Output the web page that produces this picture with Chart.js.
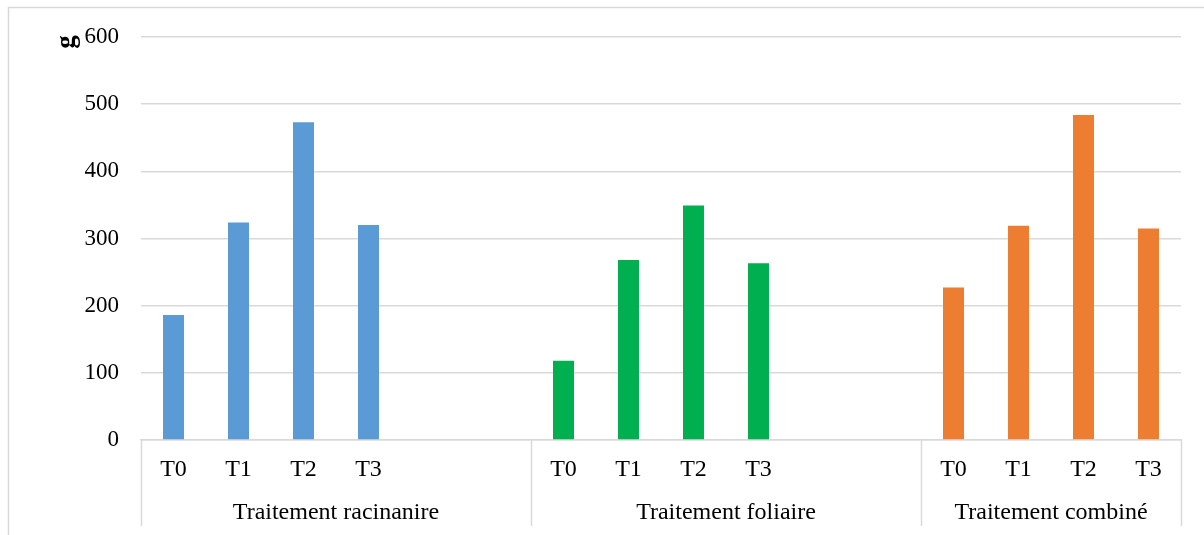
<!DOCTYPE html>
<html>
<head>
<meta charset="utf-8">
<script src="https://cdn.jsdelivr.net/npm/chart.js@4/dist/chart.umd.min.js"></script>
<style>
  html, body { margin: 0; padding: 0; background: #ffffff; }
  canvas { display: block; }
</style>
</head>
<body>
<canvas id="chart" width="1204" height="535"></canvas>
<script>
// Category slots along the x axis (blank slots separate the treatment groups)
const xLabels = ['T0', 'T1', 'T2', 'T3', '', '',
                 'T0', 'T1', 'T2', 'T3', '', '',
                 'T0', 'T1', 'T2', 'T3'];
const groupNames = ['Traitement racinanire', 'Traitement foliaire', 'Traitement combiné'];
const groupSlots = [6, 6, 4];

// Measured values in g for T0..T3 in each treatment
const racinaire = [186, 324, 473, 320];
const foliaire  = [118, 268, 349, 263];
const combine   = [227, 319, 484, 315];

const yTicks = [0, 100, 200, 300, 400, 500, 600];
const yUnit = 'g';

const FONT = '"Liberation Serif", "Times New Roman", serif';
const GRID = '#d9d9d9';

// Place each group's values into its own run of category slots
function spread(values, groupIndex) {
  const out = new Array(xLabels.length).fill(null);
  let start = 0;
  for (let i = 0; i < groupIndex; i++) start += groupSlots[i];
  values.forEach((v, i) => { out[start + i] = v; });
  return out;
}

const framePlugin = {
  id: 'frame',
  beforeDraw(chart) {
    const { ctx, width, height } = chart;
    ctx.save();
    ctx.fillStyle = '#ffffff';
    ctx.fillRect(0, 0, width, height);
    ctx.strokeStyle = GRID;
    ctx.lineWidth = 1.5;
    ctx.beginPath();
    ctx.moveTo(8.5, height);
    ctx.lineTo(8.5, 7.5);
    ctx.lineTo(width, 7.5);
    ctx.stroke();
    ctx.restore();
  },
  afterDraw(chart) {
    const { ctx, chartArea } = chart;
    const x = chart.scales.x;
    const half = (x.getPixelForValue(1) - x.getPixelForValue(0)) / 2;
    ctx.save();
    // group separators and group names under the tick labels
    ctx.strokeStyle = GRID;
    ctx.lineWidth = 1.5;
    ctx.fillStyle = '#000000';
    ctx.font = '24px ' + FONT;
    ctx.textAlign = 'center';
    ctx.textBaseline = 'middle';
    let start = 0;
    const edges = [];
    groupSlots.forEach((n, g) => {
      const left = x.getPixelForValue(start) - half;
      const right = x.getPixelForValue(start + n - 1) + half;
      edges.push(left);
      if (g === groupSlots.length - 1) edges.push(right);
      ctx.fillText(groupNames[g], (left + right) / 2, 513);
      start += n;
    });
    edges.forEach(px => {
      ctx.beginPath();
      ctx.moveTo(Math.round(px) + 0.5, chartArea.bottom);
      ctx.lineTo(Math.round(px) + 0.5, 526);
      ctx.stroke();
    });
    // unit label, rotated, next to the top tick
    ctx.translate(67, 42);
    ctx.rotate(-Math.PI / 2);
    ctx.font = 'bold 27px ' + FONT;
    ctx.fillText(yUnit, 0, 0);
    ctx.restore();
  }
};

const colors = ['#5B9BD5', '#00B050', '#ED7D31'];

new Chart(document.getElementById('chart'), {
  type: 'bar',
  data: {
    labels: xLabels,
    datasets: [racinaire, foliaire, combine].map((vals, i) => ({
      label: groupNames[i],
      data: spread(vals, i),
      backgroundColor: colors[i],
      borderWidth: 0,
      grouped: false,
      categoryPercentage: 1,
      barPercentage: 0.323
    }))
  },
  options: {
    responsive: false,
    devicePixelRatio: 1,
    animation: false,
    layout: { padding: { top: 37, right: 23, bottom: 0, left: 0 } },
    plugins: { legend: { display: false }, tooltip: { enabled: false } },
    scales: {
      y: {
        min: 0,
        max: 600,
        afterBuildTicks(scale) { scale.ticks = yTicks.map(v => ({ value: v })); },
        afterFit(scale) { scale.width = 141; },
        grid: { color: GRID, lineWidth: 1.5, drawTicks: false },
        border: { display: false },
        ticks: { color: '#000000', padding: 22, font: { family: FONT, size: 23 } }
      },
      x: {
        afterFit(scale) { scale.height = 95; },
        grid: { display: false, drawTicks: false },
        border: { display: true, color: GRID, width: 1.5 },
        ticks: { color: '#000000', padding: 15, autoSkip: false, maxRotation: 0,
                 font: { family: FONT, size: 24 } }
      }
    }
  },
  plugins: [framePlugin]
});
</script>
</body>
</html>
